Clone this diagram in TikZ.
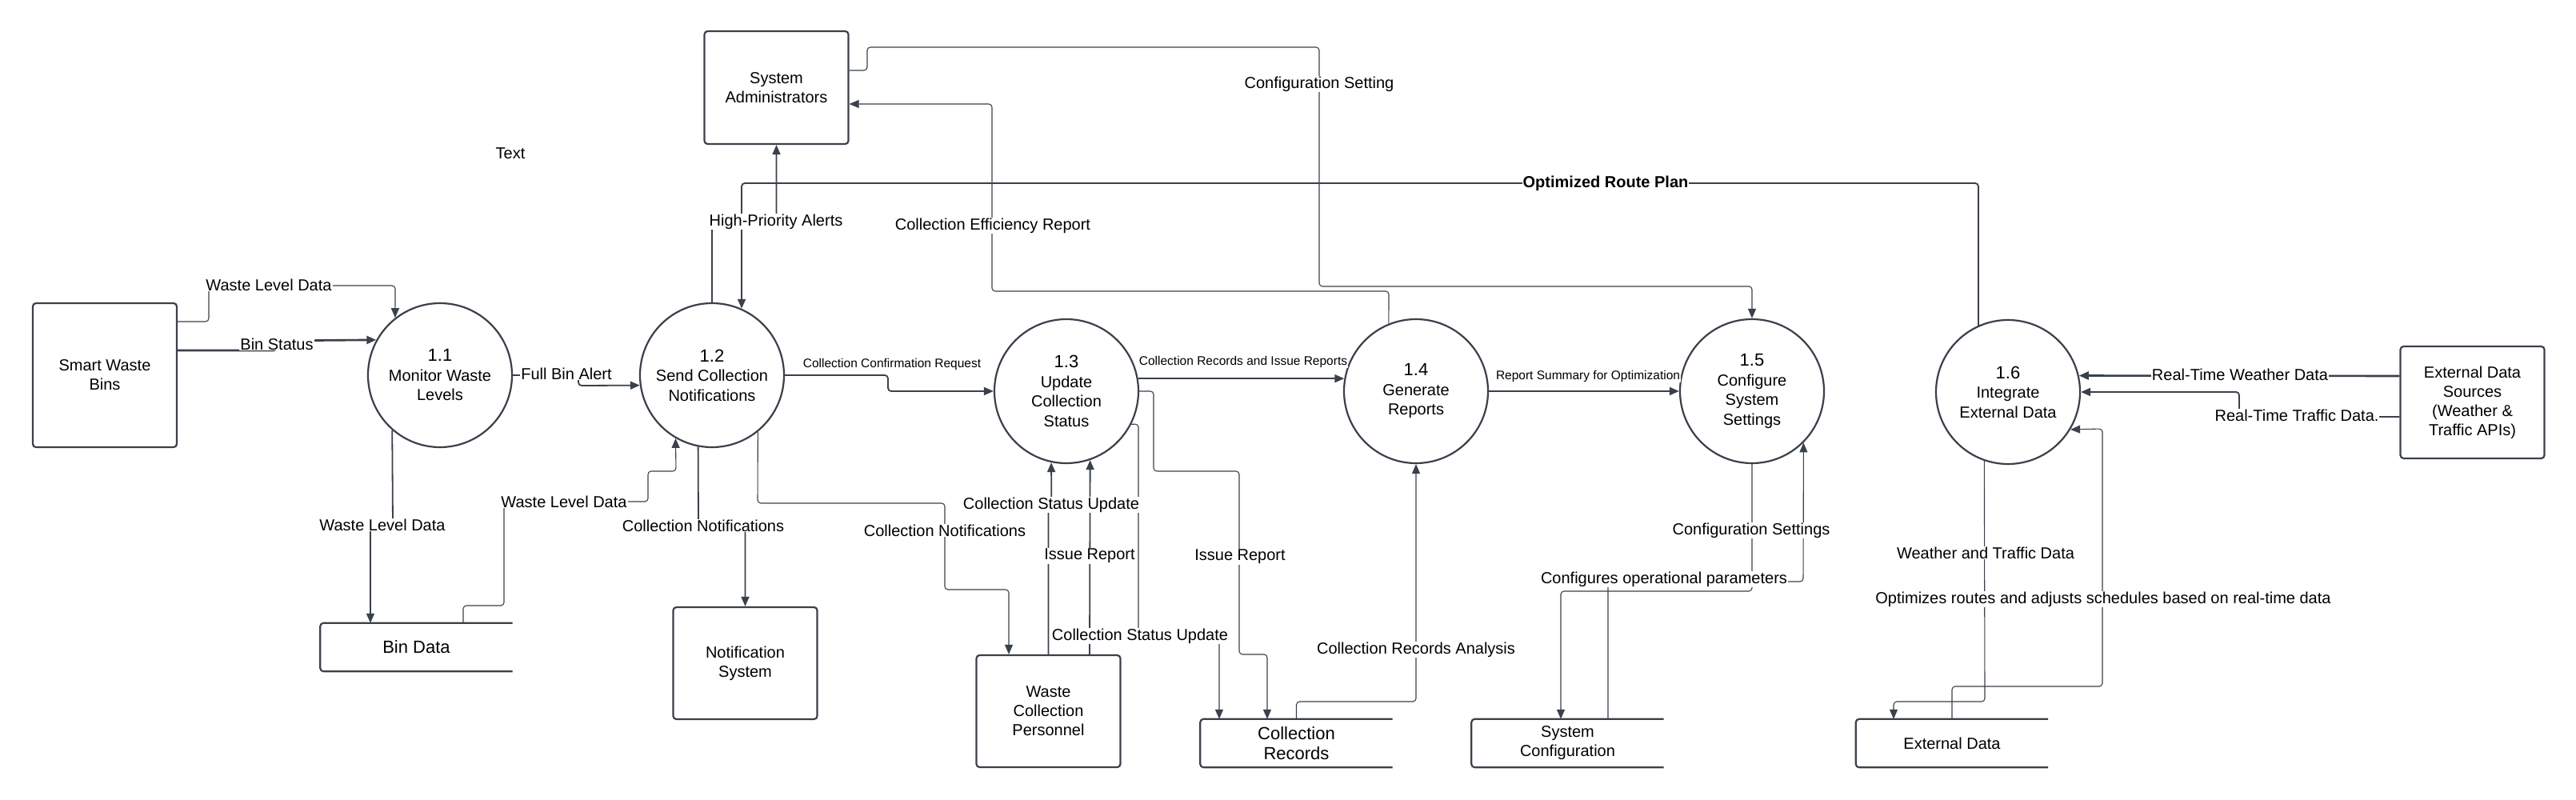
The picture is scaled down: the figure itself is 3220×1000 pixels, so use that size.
\documentclass[tikz,border=0pt]{standalone}
\usepackage{fontspec}
\setmainfont{Liberation Sans}
\usetikzlibrary{arrows.meta}
\definecolor{edge}{HTML}{3A414A}
\tikzset{
  proc/.style={circle, draw=edge, line width=2.2pt, minimum size=180pt, inner sep=0pt, align=center, font=\fontsize{20}{24.5}\selectfont},
  ent/.style={rectangle, rounded corners=4pt, draw=edge, line width=2.2pt, minimum width=180pt, minimum height=140pt, inner sep=2pt, align=center, font=\fontsize{20}{24}\selectfont},
  store/.style={minimum width=240pt, minimum height=60pt, inner sep=0pt, align=center, font=\fontsize{20}{24}\selectfont},
  storeline/.style={draw=edge, line width=2.2pt, rounded corners=4pt},
  flow/.style={draw=edge, line width=1.1pt, rounded corners=4pt, -{Triangle[length=12pt,width=10pt]}},
  mainflow/.style={flow, line width=1.8pt},
  heavyflow/.style={flow, line width=2.6pt},
  lbl/.style={fill=white, inner sep=1pt, font=\fontsize{20}{24}\selectfont},
  slbl/.style={lbl, font=\fontsize{15.5}{18}\selectfont}
}
\newcommand{\pnum}[1]{{\fontsize{22}{24.5}\selectfont #1}}
\begin{document}
\begin{tikzpicture}[x=1pt,y=-1pt]
  \useasboundingbox (0,0) rectangle (3220,1000);

  % external entities
  \node[ent, minimum height=180pt] (SWB) at (131,469) {Smart Waste\\Bins};
  \node[ent, minimum height=141pt] (SA) at (970.5,109.5) {System\\Administrators};
  \node[ent] (NS) at (931.5,829) {Notification\\System};
  \node[ent] (WCP) at (1310.5,889) {Waste\\Collection\\Personnel};
  \node[ent] (EDS) at (3090.5,503) {External Data\\Sources\\(Weather \&\\Traffic APIs)};

  % processes
  \node[proc] (P1) at (550,469) {\pnum{1.1}\\Monitor Waste\\Levels};
  \node[proc] (P2) at (890,469) {\pnum{1.2}\\Send Collection\\Notifications};
  \node[proc] (P3) at (1333,489) {\pnum{1.3}\\Update\\Collection\\Status};
  \node[proc] (P4) at (1770,489) {\pnum{1.4}\\Generate\\Reports};
  \node[proc] (P5) at (2190,489) {\pnum{1.5}\\Configure\\System\\Settings};
  \node[proc] (P6) at (2510,490) {\pnum{1.6}\\Integrate\\External Data};

  % data stores
  \node[store, font=\fontsize{22}{25}\selectfont] (BD) at (520.5,809) {Bin Data};
  \node[store, font=\fontsize{22}{25}\selectfont] (CR) at (1620.5,929) {Collection\\Records};
  \node[store] (SC) at (1959.5,929) {System\\Configuration};
  \node[store] (ED) at (2440,929) {External Data};
  \foreach \s in {BD,CR,SC,ED}
    \draw[storeline] (\s.north east) -- (\s.north west) -- (\s.south west) -- (\s.south east);

  \node[font=\fontsize{20}{24}\selectfont] (txt) at (638,192) {Text};

  % flows
  \draw[flow] (SWB.east |- 0,402) -- (261,402) -- (261,357) -- (494,357) -- (P1.128);
  \draw[heavyflow] (SWB.east |- 0,438) -- (346,438) -- (346,426) -- (P1.151.5);
  \draw[mainflow] (P1.east) -- (723,469) -- (723,482) -- (P2.188);
  \draw[mainflow] (P2.north) -- (890,277) -- (970.5,277) -- (SA.south);
  \draw[mainflow] (P6.114) -- (2473,229) -- (927,229) -- (P2.66);
  \draw[mainflow] (P2.east) -- (1110,469) -- (1110,489) -- (P3.west);
  \draw[flow] (SA.east |- 0,88) -- (1084,88) -- (1084,59) -- (1649,59) -- (1649,358) -- (2190,358) -- (P5.north);
  \draw[flow] (P4.112) -- (1736,364) -- (1240,364) -- (1240,130) -- (SA.east |- 0,130);
  \draw[mainflow] (P3.10) -- (P4.170);
  \draw[mainflow] (P4.east) -- (P5.west);
  \draw[mainflow] (P1.229) -- (491,656) -- (463,656) -- (BD.north -| 463,0);
  \draw[flow] (BD.north -| 579,0) -- (579,757) -- (630,757) -- (630,627) -- (810,627) -- (810,589) -- (845,589) -- (P2.240);
  \draw[mainflow] (P2.259) -- (873,657) -- (931.5,657) -- (NS.north);
  \draw[flow] (P2.309) -- (947,629) -- (1181,629) -- (1181,737) -- (1261,737) -- (WCP.north -| 1261,0);
  \draw[mainflow] (WCP.north) -- (1310.5,631) -- (1314.3,631) -- (P3.258);
  \draw[mainflow] (WCP.north -| 1362,0) -- (P3.289);
  \draw[flow] (P3.333) -- (1423,530) -- (1423,795) -- (1524,795) -- (CR.north -| 1524,0);
  \draw[flow] (P3.east) -- (1442,489) -- (1442,589) -- (1549,589) -- (1549,818) -- (1584,818) -- (CR.north -| 1584,0);
  \draw[flow] (CR.north) -- (1620.5,877) -- (1770,877) -- (P4.south);
  \draw[flow] (P5.south) -- (2190,739) -- (1951,739) -- (SC.north -| 1951,0);
  \draw[flow] (SC.north -| 2010,0) -- (2010,727) -- (2254,727) -- (P5.315);
  \draw[flow] (P6.251) -- (2481,877) -- (2367,877) -- (ED.north -| 2367,0);
  \draw[flow] (ED.north) -- (2440,858) -- (2628,858) -- (2628,536) -- (P6.329);
  \draw[heavyflow] (EDS.west |- 0,470) -- (P6.13);
  \draw[mainflow] (EDS.west |- 0,521) -- (2799,521) -- (2799,490) -- (P6.east);

  % flow labels
  \node[lbl] (l1) at (336,356) {Waste Level Data};
  \node[lbl] (l2) at (346,430) {Bin Status};
  \node[lbl] (l3) at (708,467) {Full Bin Alert};
  \node[lbl] (l4) at (970,277) {High-Priority Alerts};
  \node[lbl, font=\bfseries\fontsize{20}{24}\selectfont] (l5) at (2007,229) {Optimized Route Plan};
  \node[slbl] (l6) at (1115,455) {Collection Confirmation Request};
  \node[lbl] (l7) at (1649,105) {Configuration Setting};
  \node[lbl] (l8) at (1241,282) {Collection Efficiency Report};
  \node[slbl] (l9) at (1554,452) {Collection Records and Issue Reports};
  \node[slbl] (l10) at (1985,470) {Report Summary for Optimization};
  \node[lbl] (l11) at (478,656) {Waste Level Data};
  \node[lbl] (l12) at (705,627) {Waste Level Data};
  \node[lbl] (l13) at (879,657) {Collection Notifications};
  \node[lbl] (l14) at (1181,663) {Collection Notifications};
  \node[lbl] (l15) at (1314,631) {Collection Status Update};
  \node[lbl] (l16) at (1362,695) {Issue Report};
  \node[lbl] (l17) at (1425,795) {Collection Status Update};
  \node[lbl] (l18) at (1550,696) {Issue Report};
  \node[lbl] (l19) at (1770,812) {Collection Records Analysis};
  \node[lbl] (l20) at (2189,663) {Configuration Settings};
  \node[lbl] (l21) at (2080,724) {Configures operational parameters};
  \node[lbl] (l22) at (2482,691) {Weather and Traffic Data};
  \node[lbl] (l23) at (2629,749) {Optimizes routes and adjusts schedules based on real-time data};
  \node[lbl] (l24) at (2800,468) {Real-Time Weather Data};
  \node[lbl] (l25) at (2871,519) {Real-Time Traffic Data.};
\end{tikzpicture}
\end{document}
